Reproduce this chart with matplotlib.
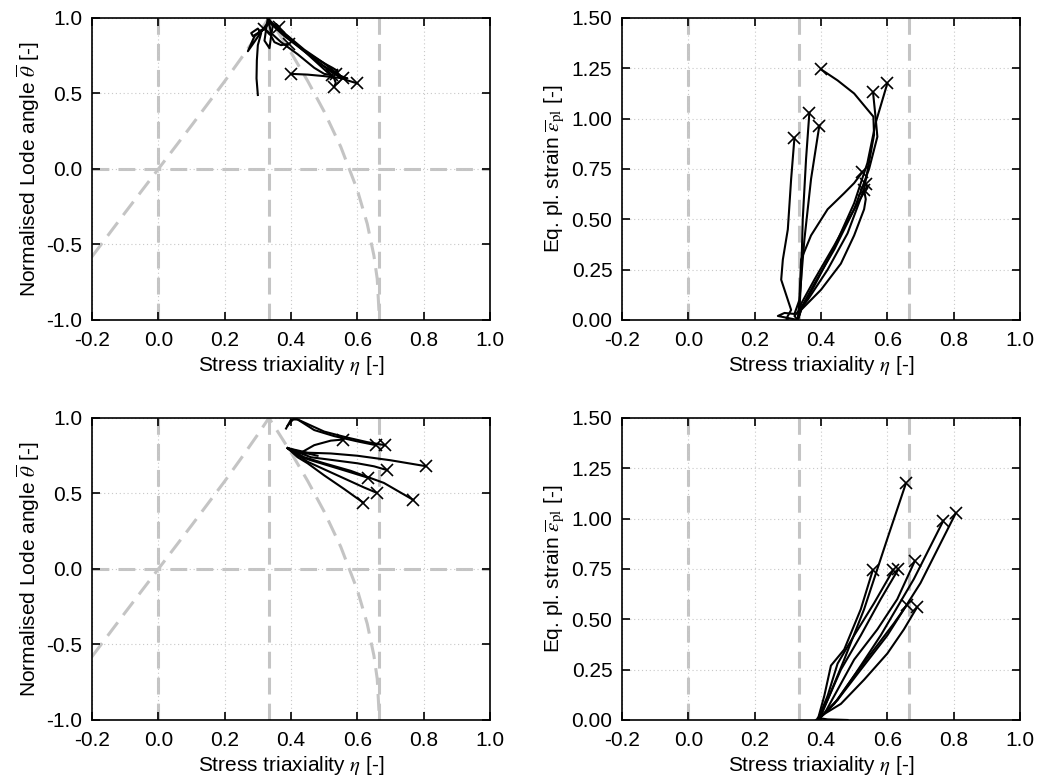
import numpy as np
import matplotlib
matplotlib.use("Agg")
import matplotlib.pyplot as plt

plt.rcParams['font.family'] = ['Liberation Sans', 'DejaVu Sans']
plt.rcParams['mathtext.fontset'] = 'stix'
plt.rcParams['axes.unicode_minus'] = False

# plane stress locus (eta, lode)
ps_eta = [-0.2, -0.1, 0.0, 0.1, 0.2, 0.25, 0.3, 0.3333, 0.35, 0.4, 0.45, 0.5, 0.55, 0.6, 0.63, 0.65, 0.66, 0.6667]
ps_lode = [-0.58, -0.288, 0.0, 0.288, 0.581, 0.734, 0.891, 1.0, 0.944, 0.771, 0.584, 0.380, 0.147, -0.139, -0.364, -0.574, -0.728, -1.0]

# top row tests: triaxiality, normalised lode angle, eq. plastic strain
top_eta = [
    [0.30, 0.296, 0.297, 0.30, 0.31, 0.30, 0.28, 0.285, 0.30, 0.31, 0.32],
    [0.33, 0.32, 0.335, 0.34, 0.345, 0.355, 0.365],
    [0.33, 0.27, 0.29, 0.32, 0.335, 0.35, 0.37, 0.395],
    [0.33, 0.335, 0.36, 0.42, 0.48, 0.53, 0.56, 0.558, 0.50, 0.45, 0.40],
    [0.33, 0.34, 0.38, 0.44, 0.50, 0.545, 0.57, 0.565, 0.557],
    [0.33, 0.34, 0.38, 0.44, 0.50, 0.54, 0.565, 0.60],
    [0.33, 0.335, 0.34, 0.37, 0.42, 0.47, 0.50, 0.525],
    [0.33, 0.34, 0.38, 0.44, 0.50, 0.525, 0.54, 0.535],
    [0.33, 0.34, 0.40, 0.46, 0.50, 0.53, 0.535, 0.53],
]
top_lode = [
    [0.49, 0.60, 0.72, 0.82, 0.90, 0.93, 0.90, 0.88, 0.90, 0.92, 0.93],
    [1.0, 0.85, 0.80, 0.88, 0.95, 0.96, 0.94],
    [0.97, 0.78, 0.88, 0.93, 0.90, 0.84, 0.82, 0.83],
    [1.0, 0.98, 0.93, 0.82, 0.71, 0.63, 0.60, 0.60, 0.615, 0.625, 0.63],
    [1.0, 0.97, 0.89, 0.78, 0.68, 0.62, 0.60, 0.60, 0.60],
    [1.0, 0.97, 0.90, 0.79, 0.70, 0.63, 0.59, 0.567],
    [1.0, 0.95, 0.90, 0.84, 0.76, 0.67, 0.63, 0.62],
    [1.0, 0.96, 0.88, 0.78, 0.70, 0.67, 0.65, 0.63],
    [1.0, 0.97, 0.86, 0.74, 0.66, 0.60, 0.57, 0.545],
]
top_eps = [
    [0.0, 0.005, 0.01, 0.02, 0.05, 0.10, 0.20, 0.30, 0.45, 0.70, 0.905],
    [0.0, 0.02, 0.05, 0.20, 0.50, 0.80, 1.03],
    [0.0, 0.02, 0.035, 0.03, 0.10, 0.40, 0.70, 0.965],
    [0.0, 0.05, 0.10, 0.25, 0.43, 0.65, 0.92, 1.01, 1.125, 1.19, 1.245],
    [0.0, 0.06, 0.18, 0.35, 0.55, 0.75, 0.91, 1.0, 1.13],
    [0.0, 0.05, 0.17, 0.36, 0.58, 0.78, 0.98, 1.175],
    [0.0, 0.10, 0.30, 0.42, 0.55, 0.63, 0.68, 0.735],
    [0.0, 0.08, 0.20, 0.37, 0.55, 0.62, 0.655, 0.675],
    [0.0, 0.05, 0.15, 0.28, 0.42, 0.55, 0.60, 0.645],
]

# bottom row tests
bot_eta = [
    [0.39, 0.41, 0.43, 0.47, 0.52, 0.556],
    [0.385, 0.40, 0.42, 0.47, 0.53, 0.60, 0.656],
    [0.39, 0.41, 0.44, 0.50, 0.57, 0.63, 0.683],
    [0.39, 0.45, 0.52, 0.60, 0.70, 0.806],
    [0.48, 0.42, 0.39, 0.46, 0.53, 0.60, 0.65, 0.69],
    [0.39, 0.42, 0.46, 0.52, 0.58, 0.633],
    [0.39, 0.45, 0.50, 0.56, 0.62, 0.658],
    [0.39, 0.44, 0.50, 0.58, 0.68, 0.769],
    [0.39, 0.42, 0.45, 0.50, 0.56, 0.618],
]
bot_lode = [
    [0.80, 0.77, 0.77, 0.82, 0.85, 0.857],
    [0.93, 0.99, 0.99, 0.92, 0.88, 0.845, 0.82],
    [0.95, 1.0, 0.97, 0.91, 0.87, 0.84, 0.82],
    [0.80, 0.77, 0.765, 0.75, 0.72, 0.681],
    [0.75, 0.78, 0.80, 0.74, 0.72, 0.70, 0.68, 0.655],
    [0.80, 0.75, 0.72, 0.68, 0.64, 0.604],
    [0.80, 0.71, 0.66, 0.60, 0.54, 0.505],
    [0.80, 0.74, 0.70, 0.65, 0.57, 0.457],
    [0.80, 0.74, 0.70, 0.62, 0.53, 0.439],
]
bot_eps = [
    [0.0, 0.12, 0.27, 0.35, 0.55, 0.743],
    [0.0, 0.02, 0.10, 0.30, 0.55, 0.90, 1.175],
    [0.0, 0.03, 0.12, 0.30, 0.45, 0.60, 0.79],
    [0.0, 0.10, 0.25, 0.42, 0.68, 1.026],
    [0.0, 0.003, 0.01, 0.08, 0.20, 0.33, 0.45, 0.561],
    [0.0, 0.10, 0.25, 0.42, 0.60, 0.748],
    [0.0, 0.10, 0.22, 0.35, 0.48, 0.569],
    [0.0, 0.08, 0.22, 0.42, 0.70, 0.99],
    [0.0, 0.12, 0.28, 0.42, 0.58, 0.746],
]

x_ticks = [-0.2, 0.0, 0.2, 0.4, 0.6, 0.8, 1.0]
lode_ticks = [-1.0, -0.5, 0.0, 0.5, 1.0]
eps_ticks = [0.0, 0.25, 0.5, 0.75, 1.0, 1.25, 1.5]

ref_col = '#c4c4c4'
ref_kw = dict(color=ref_col, lw=2.2, dashes=(5.5, 3.0), zorder=1)
fs = 15


def style_axes(ax, yticks, yfmt, ylabel):
    ax.set_xlim(-0.2, 1.0)
    ax.set_ylim(yticks[0], yticks[-1])
    ax.set_xticks(x_ticks)
    ax.set_xticklabels(['%.1f' % v for v in x_ticks])
    ax.set_yticks(yticks)
    ax.set_yticklabels([yfmt % v for v in yticks])
    ax.grid(True, ls=(0, (1, 2.5)), color='#c8c8c8', lw=0.8, zorder=0)
    ax.tick_params(direction='in', top=True, right=True, length=6, width=1.2,
                   labelsize=fs)
    ax.tick_params(axis='x', pad=8)
    ax.tick_params(axis='y', pad=7)
    for s in ax.spines.values():
        s.set_linewidth(1.2)
    ax.set_xlabel(r'Stress triaxiality $\eta$ [-]', fontsize=fs, labelpad=3)
    ax.set_ylabel(ylabel, fontsize=fs, labelpad=3)


def draw_tests(ax, xs, ys):
    for x, y in zip(xs, ys):
        ax.plot(x, y, color='black', lw=1.5, zorder=3)
        ax.plot(x[-1], y[-1], marker='x', color='black', ms=9, mew=1.2, zorder=4)


fig = plt.figure(figsize=(10.41, 7.82), dpi=100)
w, h = 0.3823, 0.3862
ax1 = fig.add_axes([0.0884, 0.5908, w, h])
ax2 = fig.add_axes([0.5975, 0.5908, w, h])
ax3 = fig.add_axes([0.0884, 0.0793, w, h])
ax4 = fig.add_axes([0.5975, 0.0793, w, h])

lode_label = r'Normalised Lode angle $\overline{\theta}$ [-]'
eps_label = r'Eq. pl. strain $\overline{\varepsilon}_{\mathrm{pl}}$ [-]'

for ax, eta, lode in [(ax1, top_eta, top_lode), (ax3, bot_eta, bot_lode)]:
    ax.plot(ps_eta, ps_lode, **ref_kw)
    ax.axhline(0.0, **ref_kw)
    for xv in [0.0, 1 / 3, 2 / 3]:
        ax.axvline(xv, **ref_kw)
    draw_tests(ax, eta, lode)
    style_axes(ax, lode_ticks, '%.1f', lode_label)

for ax, eta, eps in [(ax2, top_eta, top_eps), (ax4, bot_eta, bot_eps)]:
    for xv in [0.0, 1 / 3, 2 / 3]:
        ax.axvline(xv, **ref_kw)
    draw_tests(ax, eta, eps)
    style_axes(ax, eps_ticks, '%.2f', eps_label)

fig.savefig('out.png', dpi=100)
